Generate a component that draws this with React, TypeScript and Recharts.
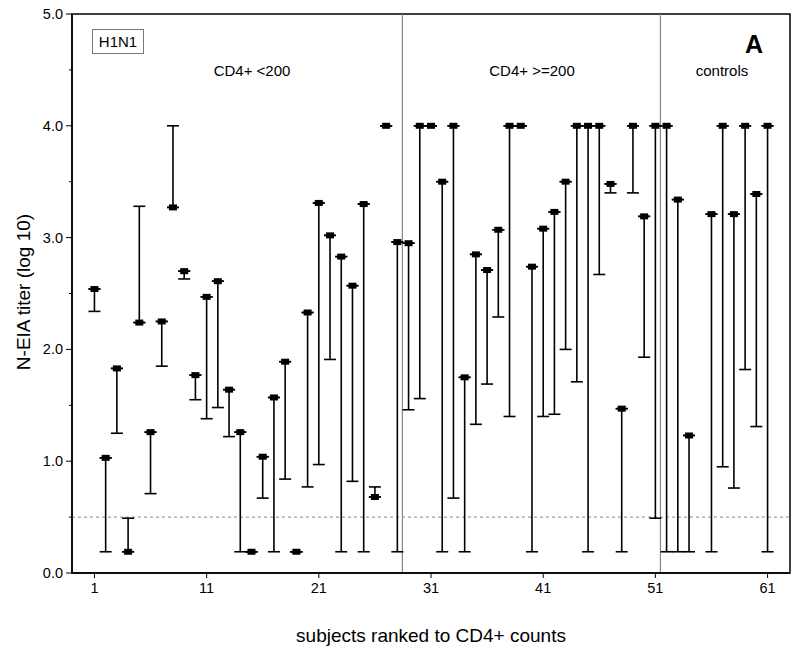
import React from 'react';
import {
  ScatterChart, Scatter, XAxis, YAxis, ErrorBar, ReferenceLine, ReferenceArea,
} from 'recharts';

// subject rank (slot 55 is empty in the original figure)
const subjects = [
  1, 2, 3, 4, 5, 6, 7, 8, 9, 10,
  11, 12, 13, 14, 15, 16, 17, 18, 19, 20,
  21, 22, 23, 24, 25, 26, 27, 28, 29, 30,
  31, 32, 33, 34, 35, 36, 37, 38, 39, 40,
  41, 42, 43, 44, 45, 46, 47, 48, 49, 50,
  51, 52, 53, 54, 56, 57, 58, 59, 60, 61,
];

// filled marker value (log10 titer)
const markerTiters = [
  2.54, 1.03, 1.83, 0.19, 2.24, 1.26, 2.25, 3.27, 2.70, 1.77,
  2.47, 2.61, 1.64, 1.26, 0.19, 1.04, 1.57, 1.89, 0.19, 2.33,
  3.31, 3.02, 2.83, 2.57, 3.30, 0.68, 4.00, 2.96, 2.95, 4.00,
  4.00, 3.50, 4.00, 1.75, 2.85, 2.71, 3.07, 4.00, 4.00, 2.74,
  3.08, 3.23, 3.50, 4.00, 4.00, 4.00, 3.48, 1.47, 4.00, 3.19,
  4.00, 4.00, 3.34, 1.23, 3.21, 4.00, 3.21, 4.00, 3.39, 4.00,
];

// other end of the range (the capped end)
const capTiters = [
  2.34, 0.19, 1.25, 0.49, 3.28, 0.71, 1.85, 4.00, 2.63, 1.55,
  1.38, 1.48, 1.22, 0.19, 0.19, 0.67, 0.19, 0.84, 0.19, 0.77,
  0.97, 1.91, 0.19, 0.82, 0.19, 0.77, 4.00, 0.19, 1.46, 1.56,
  4.00, 0.19, 0.67, 0.19, 1.33, 1.69, 2.29, 1.40, 4.00, 0.19,
  1.40, 1.42, 2.00, 1.71, 0.19, 2.67, 3.40, 0.19, 3.40, 1.93,
  0.49, 0.19, 0.19, 0.19, 0.19, 0.95, 0.76, 1.82, 1.31, 0.19,
];

const xTicks = [1, 11, 21, 31, 41, 51, 61];
const yTicks = [0, 0.5, 1, 1.5, 2, 2.5, 3, 3.5, 4, 4.5, 5];
const groupBreaks = [28.45, 51.45];

const data = subjects.map((s, i) => ({
  x: s,
  marker: markerTiters[i],
  cap: capTiters[i],
}));

const FONT = '"Liberation Sans", Arial, sans-serif';

const errorRange = (d: any) =>
  d.cap < d.marker ? [d.marker - d.cap, 0] : [0, d.cap - d.marker];

const YTick = (props: any) => {
  const { x, y, payload } = props;
  const major = Number.isInteger(payload.value);
  const axisX = x + 9;
  return (
    <g>
      <line x1={axisX - (major ? 6 : 3)} x2={axisX} y1={y} y2={y} stroke="#000" strokeWidth={1} />
      {major && (
        <text x={x} y={y} dy={5} textAnchor="end" fontSize={14.5} fontFamily={FONT} fill="#000">
          {payload.value.toFixed(1)}
        </text>
      )}
    </g>
  );
};

const MarkerShape = (props: any) => {
  const { cx, cy } = props;
  return (
    <g>
      <line x1={cx - 6} x2={cx + 6} y1={cy} y2={cy} stroke="#000" strokeWidth={1.6} />
      <rect x={cx - 4} y={cy - 3} width={8} height={6} fill="#000" />
    </g>
  );
};

export default function App() {
  return (
    <div style={{ position: 'absolute', left: 0, top: 0, width: 800, height: 655, background: '#fff' }}>
      <ScatterChart width={800} height={655} margin={{ top: 14, right: 10, bottom: 52, left: 12 }}>
        <XAxis
          type="number"
          dataKey="x"
          domain={[-1, 63]}
          ticks={xTicks}
          allowDataOverflow
          height={30}
          tickSize={5}
          tickMargin={5}
          axisLine={{ stroke: '#000', strokeWidth: 1.5 }}
          tickLine={{ stroke: '#000' }}
          tick={{ fontSize: 14.5, fontFamily: FONT, fill: '#000' }}
        />
        <YAxis
          type="number"
          domain={[0, 5]}
          ticks={yTicks}
          width={60}
          tickSize={6}
          tickMargin={3}
          axisLine={{ stroke: '#000', strokeWidth: 1.5 }}
          tickLine={false}
          tick={<YTick />}
        />
        <ReferenceArea x1={-1} x2={63} y1={0} y2={5} fill="none" stroke="#000" strokeWidth={1.5} />
        {groupBreaks.map((b) => (
          <ReferenceLine key={b} x={b} stroke="#888" strokeWidth={1.2} />
        ))}
        <ReferenceLine y={0.5} stroke="#888" strokeDasharray="3 3" />
        <Scatter data={data} dataKey="marker" shape={<MarkerShape />} isAnimationActive={false}>
          <ErrorBar
            dataKey={errorRange}
            direction="y"
            width={6}
            stroke="#000"
            strokeWidth={1.6}
            isAnimationActive={false}
          />
        </Scatter>
      </ScatterChart>
      <svg width={800} height={655} style={{ position: 'absolute', left: 0, top: 0, pointerEvents: 'none' }}>
        <g fontFamily={FONT} fill="#000">
          <rect x={92.5} y={29.5} width={51} height={24} fill="none" stroke="#777" strokeWidth={1} />
          <text x={118} y={47} textAnchor="middle" fontSize={15}>H1N1</text>
          <text x={252} y={76} textAnchor="middle" fontSize={15}>CD4+ &lt;200</text>
          <text x={532} y={76} textAnchor="middle" fontSize={15}>CD4+ &gt;=200</text>
          <text x={722} y={76} textAnchor="middle" fontSize={15}>controls</text>
          <text x={754} y={53} textAnchor="middle" fontSize={25} fontWeight="bold">A</text>
          <text x={431} y={642} textAnchor="middle" fontSize={19}>subjects ranked to CD4+ counts</text>
          <text
            x={30}
            y={292}
            textAnchor="middle"
            fontSize={19}
            transform="rotate(-90 30 292)"
          >
            N-EIA titer (log 10)
          </text>
        </g>
      </svg>
    </div>
  );
}
